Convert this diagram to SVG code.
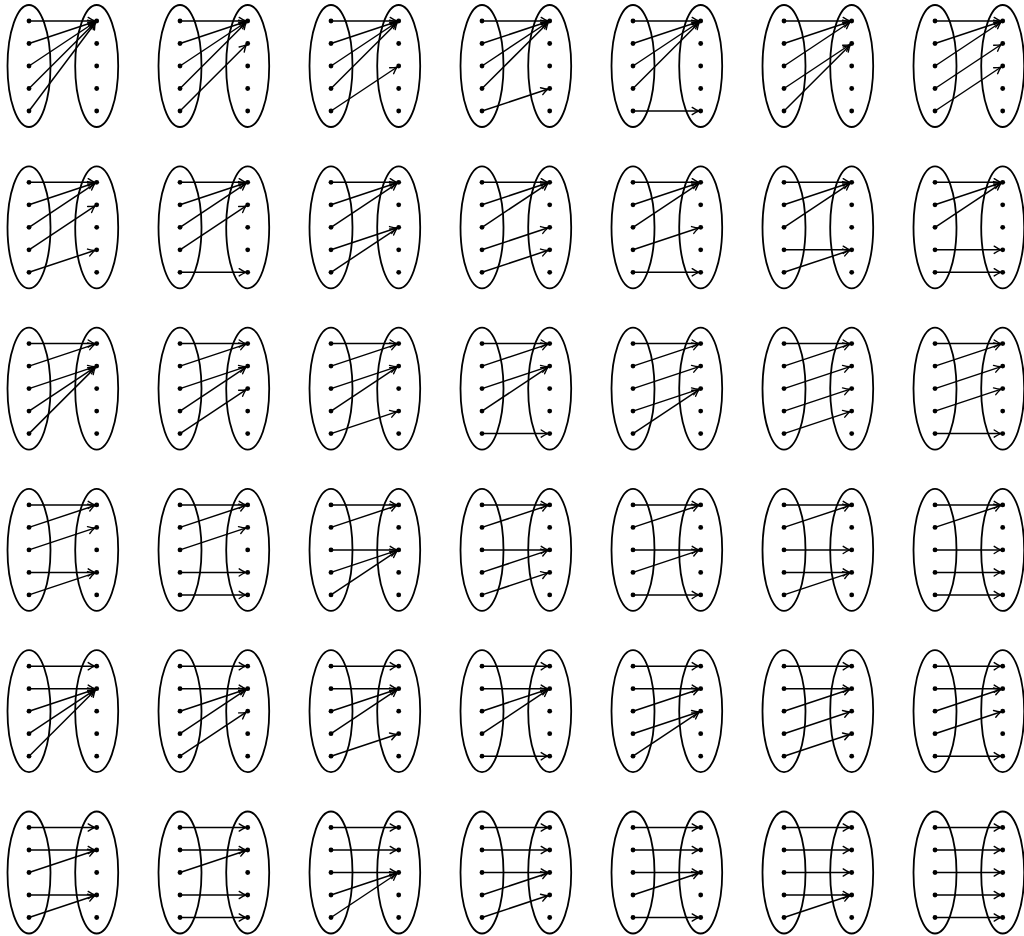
<svg xmlns="http://www.w3.org/2000/svg" xmlns:xlink="http://www.w3.org/1999/xlink" width="1024" height="936" viewBox="0 0 1024 936">
<style>
.set ellipse{fill:none;stroke:#000;stroke-width:1.8}
.set circle{fill:#000}
.conn line{stroke:#000;stroke-width:1.5;fill:none;marker-end:url(#ah)}
</style>
<defs>
<marker id="ah" markerUnits="userSpaceOnUse" viewBox="-8 -5 10 10" markerWidth="10" markerHeight="10" refX="2" refY="0" orient="auto" overflow="visible">
<path d="M-6.5,-3.6 Q-2.5,-0.9 0,0 Q-2.5,0.9 -6.5,3.6" fill="none" stroke="#000" stroke-width="1.4" stroke-linecap="round"/>
</marker>
<g id="pair" class="set">
<ellipse cx="29" cy="66" rx="21.5" ry="61"/>
<ellipse cx="96.7" cy="66" rx="21.5" ry="61"/>
<circle cx="29" cy="21" r="2.4"/><circle cx="29" cy="43.5" r="2.4"/><circle cx="29" cy="66" r="2.4"/><circle cx="29" cy="88.5" r="2.4"/><circle cx="29" cy="111" r="2.4"/>
<circle cx="96.7" cy="21" r="2.4"/><circle cx="96.7" cy="43.5" r="2.4"/><circle cx="96.7" cy="66" r="2.4"/><circle cx="96.7" cy="88.5" r="2.4"/><circle cx="96.7" cy="111" r="2.4"/>
</g>
</defs>
<rect width="1024" height="936" fill="#fff"/>
<g id="nodes">
<g id="f11111" transform="translate(0,0)"><use href="#pair"/></g>
<g id="f11112" transform="translate(151,0)"><use href="#pair"/></g>
<g id="f11113" transform="translate(302,0)"><use href="#pair"/></g>
<g id="f11114" transform="translate(453,0)"><use href="#pair"/></g>
<g id="f11115" transform="translate(604,0)"><use href="#pair"/></g>
<g id="f11122" transform="translate(755,0)"><use href="#pair"/></g>
<g id="f11123" transform="translate(906,0)"><use href="#pair"/></g>
<g id="f11124" transform="translate(0,161.3)"><use href="#pair"/></g>
<g id="f11125" transform="translate(151,161.3)"><use href="#pair"/></g>
<g id="f11133" transform="translate(302,161.3)"><use href="#pair"/></g>
<g id="f11134" transform="translate(453,161.3)"><use href="#pair"/></g>
<g id="f11135" transform="translate(604,161.3)"><use href="#pair"/></g>
<g id="f11144" transform="translate(755,161.3)"><use href="#pair"/></g>
<g id="f11145" transform="translate(906,161.3)"><use href="#pair"/></g>
<g id="f11222" transform="translate(0,322.6)"><use href="#pair"/></g>
<g id="f11223" transform="translate(151,322.6)"><use href="#pair"/></g>
<g id="f11224" transform="translate(302,322.6)"><use href="#pair"/></g>
<g id="f11225" transform="translate(453,322.6)"><use href="#pair"/></g>
<g id="f11233" transform="translate(604,322.6)"><use href="#pair"/></g>
<g id="f11234" transform="translate(755,322.6)"><use href="#pair"/></g>
<g id="f11235" transform="translate(906,322.6)"><use href="#pair"/></g>
<g id="f11244" transform="translate(0,483.9)"><use href="#pair"/></g>
<g id="f11245" transform="translate(151,483.9)"><use href="#pair"/></g>
<g id="f11333" transform="translate(302,483.9)"><use href="#pair"/></g>
<g id="f11334" transform="translate(453,483.9)"><use href="#pair"/></g>
<g id="f11335" transform="translate(604,483.9)"><use href="#pair"/></g>
<g id="f11344" transform="translate(755,483.9)"><use href="#pair"/></g>
<g id="f11345" transform="translate(906,483.9)"><use href="#pair"/></g>
<g id="f12222" transform="translate(0,645.2)"><use href="#pair"/></g>
<g id="f12223" transform="translate(151,645.2)"><use href="#pair"/></g>
<g id="f12224" transform="translate(302,645.2)"><use href="#pair"/></g>
<g id="f12225" transform="translate(453,645.2)"><use href="#pair"/></g>
<g id="f12233" transform="translate(604,645.2)"><use href="#pair"/></g>
<g id="f12234" transform="translate(755,645.2)"><use href="#pair"/></g>
<g id="f12235" transform="translate(906,645.2)"><use href="#pair"/></g>
<g id="f12244" transform="translate(0,806.5)"><use href="#pair"/></g>
<g id="f12245" transform="translate(151,806.5)"><use href="#pair"/></g>
<g id="f12333" transform="translate(302,806.5)"><use href="#pair"/></g>
<g id="f12334" transform="translate(453,806.5)"><use href="#pair"/></g>
<g id="f12335" transform="translate(604,806.5)"><use href="#pair"/></g>
<g id="f12344" transform="translate(755,806.5)"><use href="#pair"/></g>
<g id="f12345" transform="translate(906,806.5)"><use href="#pair"/></g>
</g>
<g id="connectors" class="conn">
<!-- row 1 -->
<g transform="translate(0,0)"><line x1="29" y1="21" x2="96.7" y2="21"/><line x1="29" y1="43.5" x2="96.7" y2="21"/><line x1="29" y1="66" x2="96.7" y2="21"/><line x1="29" y1="88.5" x2="96.7" y2="21"/><line x1="29" y1="111" x2="96.7" y2="21"/></g>
<g transform="translate(151,0)"><line x1="29" y1="21" x2="96.7" y2="21"/><line x1="29" y1="43.5" x2="96.7" y2="21"/><line x1="29" y1="66" x2="96.7" y2="21"/><line x1="29" y1="88.5" x2="96.7" y2="21"/><line x1="29" y1="111" x2="96.7" y2="43.5"/></g>
<g transform="translate(302,0)"><line x1="29" y1="21" x2="96.7" y2="21"/><line x1="29" y1="43.5" x2="96.7" y2="21"/><line x1="29" y1="66" x2="96.7" y2="21"/><line x1="29" y1="88.5" x2="96.7" y2="21"/><line x1="29" y1="111" x2="96.7" y2="66"/></g>
<g transform="translate(453,0)"><line x1="29" y1="21" x2="96.7" y2="21"/><line x1="29" y1="43.5" x2="96.7" y2="21"/><line x1="29" y1="66" x2="96.7" y2="21"/><line x1="29" y1="88.5" x2="96.7" y2="21"/><line x1="29" y1="111" x2="96.7" y2="88.5"/></g>
<g transform="translate(604,0)"><line x1="29" y1="21" x2="96.7" y2="21"/><line x1="29" y1="43.5" x2="96.7" y2="21"/><line x1="29" y1="66" x2="96.7" y2="21"/><line x1="29" y1="88.5" x2="96.7" y2="21"/><line x1="29" y1="111" x2="96.7" y2="111"/></g>
<g transform="translate(755,0)"><line x1="29" y1="21" x2="96.7" y2="21"/><line x1="29" y1="43.5" x2="96.7" y2="21"/><line x1="29" y1="66" x2="96.7" y2="21"/><line x1="29" y1="88.5" x2="96.7" y2="43.5"/><line x1="29" y1="111" x2="96.7" y2="43.5"/></g>
<g transform="translate(906,0)"><line x1="29" y1="21" x2="96.7" y2="21"/><line x1="29" y1="43.5" x2="96.7" y2="21"/><line x1="29" y1="66" x2="96.7" y2="21"/><line x1="29" y1="88.5" x2="96.7" y2="43.5"/><line x1="29" y1="111" x2="96.7" y2="66"/></g>
<!-- row 2 -->
<g transform="translate(0,161.3)"><line x1="29" y1="21" x2="96.7" y2="21"/><line x1="29" y1="43.5" x2="96.7" y2="21"/><line x1="29" y1="66" x2="96.7" y2="21"/><line x1="29" y1="88.5" x2="96.7" y2="43.5"/><line x1="29" y1="111" x2="96.7" y2="88.5"/></g>
<g transform="translate(151,161.3)"><line x1="29" y1="21" x2="96.7" y2="21"/><line x1="29" y1="43.5" x2="96.7" y2="21"/><line x1="29" y1="66" x2="96.7" y2="21"/><line x1="29" y1="88.5" x2="96.7" y2="43.5"/><line x1="29" y1="111" x2="96.7" y2="111"/></g>
<g transform="translate(302,161.3)"><line x1="29" y1="21" x2="96.7" y2="21"/><line x1="29" y1="43.5" x2="96.7" y2="21"/><line x1="29" y1="66" x2="96.7" y2="21"/><line x1="29" y1="88.5" x2="96.7" y2="66"/><line x1="29" y1="111" x2="96.7" y2="66"/></g>
<g transform="translate(453,161.3)"><line x1="29" y1="21" x2="96.7" y2="21"/><line x1="29" y1="43.5" x2="96.7" y2="21"/><line x1="29" y1="66" x2="96.7" y2="21"/><line x1="29" y1="88.5" x2="96.7" y2="66"/><line x1="29" y1="111" x2="96.7" y2="88.5"/></g>
<g transform="translate(604,161.3)"><line x1="29" y1="21" x2="96.7" y2="21"/><line x1="29" y1="43.5" x2="96.7" y2="21"/><line x1="29" y1="66" x2="96.7" y2="21"/><line x1="29" y1="88.5" x2="96.7" y2="66"/><line x1="29" y1="111" x2="96.7" y2="111"/></g>
<g transform="translate(755,161.3)"><line x1="29" y1="21" x2="96.7" y2="21"/><line x1="29" y1="43.5" x2="96.7" y2="21"/><line x1="29" y1="66" x2="96.7" y2="21"/><line x1="29" y1="88.5" x2="96.7" y2="88.5"/><line x1="29" y1="111" x2="96.7" y2="88.5"/></g>
<g transform="translate(906,161.3)"><line x1="29" y1="21" x2="96.7" y2="21"/><line x1="29" y1="43.5" x2="96.7" y2="21"/><line x1="29" y1="66" x2="96.7" y2="21"/><line x1="29" y1="88.5" x2="96.7" y2="88.5"/><line x1="29" y1="111" x2="96.7" y2="111"/></g>
<!-- row 3 -->
<g transform="translate(0,322.6)"><line x1="29" y1="21" x2="96.7" y2="21"/><line x1="29" y1="43.5" x2="96.7" y2="21"/><line x1="29" y1="66" x2="96.7" y2="43.5"/><line x1="29" y1="88.5" x2="96.7" y2="43.5"/><line x1="29" y1="111" x2="96.7" y2="43.5"/></g>
<g transform="translate(151,322.6)"><line x1="29" y1="21" x2="96.7" y2="21"/><line x1="29" y1="43.5" x2="96.7" y2="21"/><line x1="29" y1="66" x2="96.7" y2="43.5"/><line x1="29" y1="88.5" x2="96.7" y2="43.5"/><line x1="29" y1="111" x2="96.7" y2="66"/></g>
<g transform="translate(302,322.6)"><line x1="29" y1="21" x2="96.7" y2="21"/><line x1="29" y1="43.5" x2="96.7" y2="21"/><line x1="29" y1="66" x2="96.7" y2="43.5"/><line x1="29" y1="88.5" x2="96.7" y2="43.5"/><line x1="29" y1="111" x2="96.7" y2="88.5"/></g>
<g transform="translate(453,322.6)"><line x1="29" y1="21" x2="96.7" y2="21"/><line x1="29" y1="43.5" x2="96.7" y2="21"/><line x1="29" y1="66" x2="96.7" y2="43.5"/><line x1="29" y1="88.5" x2="96.7" y2="43.5"/><line x1="29" y1="111" x2="96.7" y2="111"/></g>
<g transform="translate(604,322.6)"><line x1="29" y1="21" x2="96.7" y2="21"/><line x1="29" y1="43.5" x2="96.7" y2="21"/><line x1="29" y1="66" x2="96.7" y2="43.5"/><line x1="29" y1="88.5" x2="96.7" y2="66"/><line x1="29" y1="111" x2="96.7" y2="66"/></g>
<g transform="translate(755,322.6)"><line x1="29" y1="21" x2="96.7" y2="21"/><line x1="29" y1="43.5" x2="96.7" y2="21"/><line x1="29" y1="66" x2="96.7" y2="43.5"/><line x1="29" y1="88.5" x2="96.7" y2="66"/><line x1="29" y1="111" x2="96.7" y2="88.5"/></g>
<g transform="translate(906,322.6)"><line x1="29" y1="21" x2="96.7" y2="21"/><line x1="29" y1="43.5" x2="96.7" y2="21"/><line x1="29" y1="66" x2="96.7" y2="43.5"/><line x1="29" y1="88.5" x2="96.7" y2="66"/><line x1="29" y1="111" x2="96.7" y2="111"/></g>
<!-- row 4 -->
<g transform="translate(0,483.9)"><line x1="29" y1="21" x2="96.7" y2="21"/><line x1="29" y1="43.5" x2="96.7" y2="21"/><line x1="29" y1="66" x2="96.7" y2="43.5"/><line x1="29" y1="88.5" x2="96.7" y2="88.5"/><line x1="29" y1="111" x2="96.7" y2="88.5"/></g>
<g transform="translate(151,483.9)"><line x1="29" y1="21" x2="96.7" y2="21"/><line x1="29" y1="43.5" x2="96.7" y2="21"/><line x1="29" y1="66" x2="96.7" y2="43.5"/><line x1="29" y1="88.5" x2="96.7" y2="88.5"/><line x1="29" y1="111" x2="96.7" y2="111"/></g>
<g transform="translate(302,483.9)"><line x1="29" y1="21" x2="96.7" y2="21"/><line x1="29" y1="43.5" x2="96.7" y2="21"/><line x1="29" y1="66" x2="96.7" y2="66"/><line x1="29" y1="88.5" x2="96.7" y2="66"/><line x1="29" y1="111" x2="96.7" y2="66"/></g>
<g transform="translate(453,483.9)"><line x1="29" y1="21" x2="96.7" y2="21"/><line x1="29" y1="43.5" x2="96.7" y2="21"/><line x1="29" y1="66" x2="96.7" y2="66"/><line x1="29" y1="88.5" x2="96.7" y2="66"/><line x1="29" y1="111" x2="96.7" y2="88.5"/></g>
<g transform="translate(604,483.9)"><line x1="29" y1="21" x2="96.7" y2="21"/><line x1="29" y1="43.5" x2="96.7" y2="21"/><line x1="29" y1="66" x2="96.7" y2="66"/><line x1="29" y1="88.5" x2="96.7" y2="66"/><line x1="29" y1="111" x2="96.7" y2="111"/></g>
<g transform="translate(755,483.9)"><line x1="29" y1="21" x2="96.7" y2="21"/><line x1="29" y1="43.5" x2="96.7" y2="21"/><line x1="29" y1="66" x2="96.7" y2="66"/><line x1="29" y1="88.5" x2="96.7" y2="88.5"/><line x1="29" y1="111" x2="96.7" y2="88.5"/></g>
<g transform="translate(906,483.9)"><line x1="29" y1="21" x2="96.7" y2="21"/><line x1="29" y1="43.5" x2="96.7" y2="21"/><line x1="29" y1="66" x2="96.7" y2="66"/><line x1="29" y1="88.5" x2="96.7" y2="88.5"/><line x1="29" y1="111" x2="96.7" y2="111"/></g>
<!-- row 5 -->
<g transform="translate(0,645.2)"><line x1="29" y1="21" x2="96.7" y2="21"/><line x1="29" y1="43.5" x2="96.7" y2="43.5"/><line x1="29" y1="66" x2="96.7" y2="43.5"/><line x1="29" y1="88.5" x2="96.7" y2="43.5"/><line x1="29" y1="111" x2="96.7" y2="43.5"/></g>
<g transform="translate(151,645.2)"><line x1="29" y1="21" x2="96.7" y2="21"/><line x1="29" y1="43.5" x2="96.7" y2="43.5"/><line x1="29" y1="66" x2="96.7" y2="43.5"/><line x1="29" y1="88.5" x2="96.7" y2="43.5"/><line x1="29" y1="111" x2="96.7" y2="66"/></g>
<g transform="translate(302,645.2)"><line x1="29" y1="21" x2="96.7" y2="21"/><line x1="29" y1="43.5" x2="96.7" y2="43.5"/><line x1="29" y1="66" x2="96.7" y2="43.5"/><line x1="29" y1="88.5" x2="96.7" y2="43.5"/><line x1="29" y1="111" x2="96.7" y2="88.5"/></g>
<g transform="translate(453,645.2)"><line x1="29" y1="21" x2="96.7" y2="21"/><line x1="29" y1="43.5" x2="96.7" y2="43.5"/><line x1="29" y1="66" x2="96.7" y2="43.5"/><line x1="29" y1="88.5" x2="96.7" y2="43.5"/><line x1="29" y1="111" x2="96.7" y2="111"/></g>
<g transform="translate(604,645.2)"><line x1="29" y1="21" x2="96.7" y2="21"/><line x1="29" y1="43.5" x2="96.7" y2="43.5"/><line x1="29" y1="66" x2="96.7" y2="43.5"/><line x1="29" y1="88.5" x2="96.7" y2="66"/><line x1="29" y1="111" x2="96.7" y2="66"/></g>
<g transform="translate(755,645.2)"><line x1="29" y1="21" x2="96.7" y2="21"/><line x1="29" y1="43.5" x2="96.7" y2="43.5"/><line x1="29" y1="66" x2="96.7" y2="43.5"/><line x1="29" y1="88.5" x2="96.7" y2="66"/><line x1="29" y1="111" x2="96.7" y2="88.5"/></g>
<g transform="translate(906,645.2)"><line x1="29" y1="21" x2="96.7" y2="21"/><line x1="29" y1="43.5" x2="96.7" y2="43.5"/><line x1="29" y1="66" x2="96.7" y2="43.5"/><line x1="29" y1="88.5" x2="96.7" y2="66"/><line x1="29" y1="111" x2="96.7" y2="111"/></g>
<!-- row 6 -->
<g transform="translate(0,806.5)"><line x1="29" y1="21" x2="96.7" y2="21"/><line x1="29" y1="43.5" x2="96.7" y2="43.5"/><line x1="29" y1="66" x2="96.7" y2="43.5"/><line x1="29" y1="88.5" x2="96.7" y2="88.5"/><line x1="29" y1="111" x2="96.7" y2="88.5"/></g>
<g transform="translate(151,806.5)"><line x1="29" y1="21" x2="96.7" y2="21"/><line x1="29" y1="43.5" x2="96.7" y2="43.5"/><line x1="29" y1="66" x2="96.7" y2="43.5"/><line x1="29" y1="88.5" x2="96.7" y2="88.5"/><line x1="29" y1="111" x2="96.7" y2="111"/></g>
<g transform="translate(302,806.5)"><line x1="29" y1="21" x2="96.7" y2="21"/><line x1="29" y1="43.5" x2="96.7" y2="43.5"/><line x1="29" y1="66" x2="96.7" y2="66"/><line x1="29" y1="88.5" x2="96.7" y2="66"/><line x1="29" y1="111" x2="96.7" y2="66"/></g>
<g transform="translate(453,806.5)"><line x1="29" y1="21" x2="96.7" y2="21"/><line x1="29" y1="43.5" x2="96.7" y2="43.5"/><line x1="29" y1="66" x2="96.7" y2="66"/><line x1="29" y1="88.5" x2="96.7" y2="66"/><line x1="29" y1="111" x2="96.7" y2="88.5"/></g>
<g transform="translate(604,806.5)"><line x1="29" y1="21" x2="96.7" y2="21"/><line x1="29" y1="43.5" x2="96.7" y2="43.5"/><line x1="29" y1="66" x2="96.7" y2="66"/><line x1="29" y1="88.5" x2="96.7" y2="66"/><line x1="29" y1="111" x2="96.7" y2="111"/></g>
<g transform="translate(755,806.5)"><line x1="29" y1="21" x2="96.7" y2="21"/><line x1="29" y1="43.5" x2="96.7" y2="43.5"/><line x1="29" y1="66" x2="96.7" y2="66"/><line x1="29" y1="88.5" x2="96.7" y2="88.5"/><line x1="29" y1="111" x2="96.7" y2="88.5"/></g>
<g transform="translate(906,806.5)"><line x1="29" y1="21" x2="96.7" y2="21"/><line x1="29" y1="43.5" x2="96.7" y2="43.5"/><line x1="29" y1="66" x2="96.7" y2="66"/><line x1="29" y1="88.5" x2="96.7" y2="88.5"/><line x1="29" y1="111" x2="96.7" y2="111"/></g>
</g>
</svg>
